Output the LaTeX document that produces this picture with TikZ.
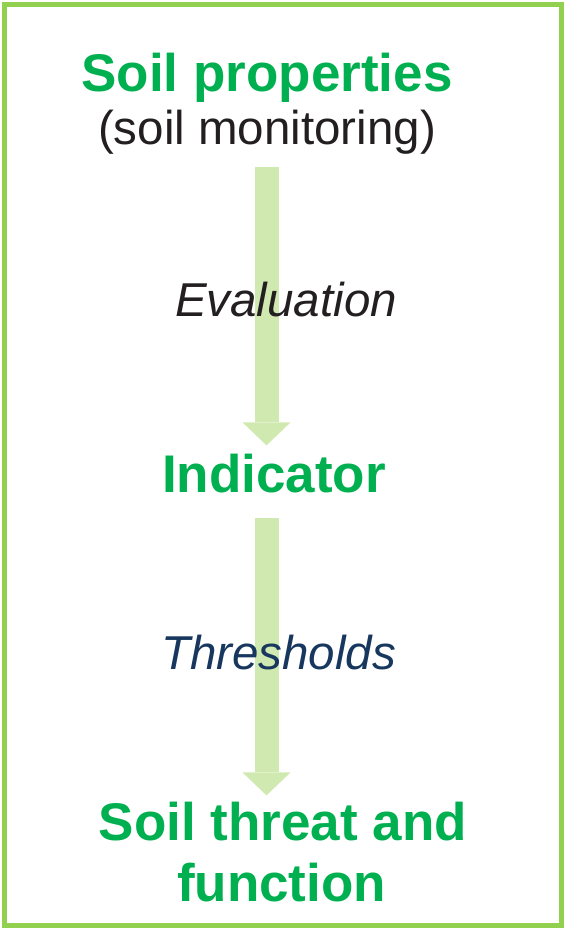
\documentclass[tikz,border=0pt]{standalone}
\usepackage{fontspec}
\setmainfont{Liberation Sans}
\usepackage{xcolor}
\usetikzlibrary{arrows.meta}
\definecolor{soilgreen}{RGB}{0,176,80}
\definecolor{framegreen}{RGB}{146,208,80}
\definecolor{flowgreen}{RGB}{207,233,176}
\definecolor{threshblue}{RGB}{23,55,94}
\definecolor{inkblack}{RGB}{35,31,32}
\tikzset{heading/.style={text=soilgreen, anchor=base, inner sep=0pt,
   font=\fontsize{53}{61}\selectfont\bfseries},
 plain/.style={text=inkblack, anchor=base, inner sep=0pt,
   font=\fontsize{47.5}{54}\selectfont},
 steplabel/.style={plain, font=\fontsize{47.5}{54}\selectfont\itshape},
 flow/.style={draw=flowgreen, line width=24pt,
   -{Triangle[width=48pt, length=23pt, line width=0pt]}},
 }

\begin{document}
\begin{tikzpicture}[x=1pt, y=1pt]
        \useasboundingbox (0,0) rectangle (564,-928);
        \draw[framegreen, line width=5pt] (4.5,-4.5) rectangle (561.5,-925.5);

        \node[heading] (props) at (267,-92) {Soil properties};
        \node[plain] (monit) at (267,-145) {(soil monitoring)};
        \node[heading] (ind) at (274,-492) {Indicator};
        \node[heading] (threat) at (283,-840) {Soil threat and};
        \node[heading] (func) at (281.5,-901) {function};

        % both block arrows sit on one vertical axis
        \coordinate (axis) at (266.5,0);
        \draw[flow, shorten <=12pt, shorten >=8pt] (axis |- monit.south) -- (axis |- ind.north);
        \draw[flow, shorten <=25pt, shorten >=6pt] (axis |- ind.south) -- (axis |- threat.north);

        \node[steplabel] (eval) at (286,-316) {Evaluation};
        \node[steplabel, text=threshblue] (thresh) at (278.5,-669) {Thresholds};
    \end{tikzpicture}
\end{document}
